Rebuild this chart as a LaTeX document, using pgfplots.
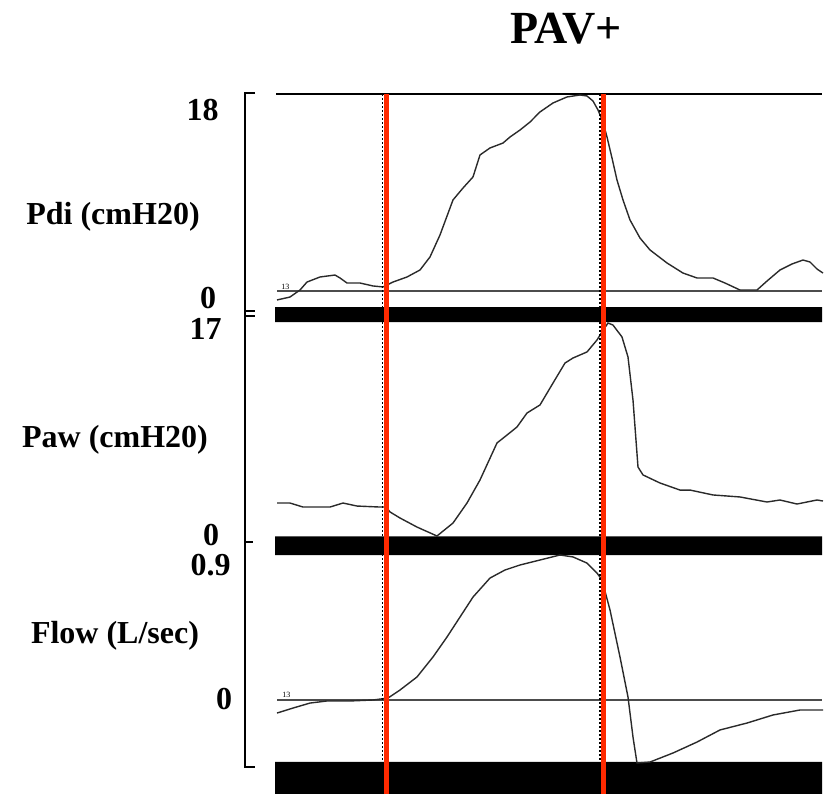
\documentclass[border=0pt]{standalone}
\usepackage{pgfplots}
\pgfplotsset{compat=1.18}
\usepackage{fontspec}
\setmainfont{Liberation Serif}
\definecolor{redline}{HTML}{FF2A00}
\definecolor{trace}{HTML}{2A2A2A}
\begin{document}
\begin{tikzpicture}
\useasboundingbox (0pt,0pt) rectangle (413.5pt,-397pt);
\pgfplotsset{panel/.style={scale only axis, width=274pt, xmin=275, xmax=823,
  axis lines=none, ticks=none, clip=false, anchor=south west}}
% ---------------- Pdi ----------------
\begin{axis}[panel, at={(137.5pt,-161pt)}, height=114pt, ymin=-2.833, ymax=18]
\addplot[fill=black, draw=none] coordinates {(275,-1.462) (822,-1.462) (822,-2.833) (275,-2.833) (275,-1.462)};
\addplot[black, line width=1.1pt] coordinates {(276,18) (822,18)};
\addplot[black!70, line width=0.7pt] coordinates {(277,0) (822,0)};
\addplot[trace, line width=0.7pt] coordinates {
(277,-0.82) (290,-0.55) (300,0.09) (307,0.82) (320,1.28) (335,1.46) (340,1.19) (347,0.73)
(360,0.73) (373,0.46) (383,0.37) (393,0.82) (407,1.28) (420,1.92) (430,3.11) (440,5.12)
(453,8.32) (463,9.41) (473,10.42) (480,12.43) (490,13.07) (503,13.52) (510,14.07) (520,14.71)
(530,15.44) (540,16.36) (553,17.18) (567,17.73) (580,17.91) (587,17.82) (593,17.36) (598,16.54)
(603,15.44) (607,14.07) (612,12.15) (617,10.14) (623,8.32) (630,6.49) (640,4.84) (650,3.75)
(667,2.56) (683,1.64) (697,1.19) (713,1.19) (725,0.73) (740,0.09) (757,0.09) (767,0.91)
(780,1.92) (792,2.47) (803,2.83) (810,2.65) (817,2.01) (823,1.64)};
\end{axis}
% ---------------- Paw ----------------
\begin{axis}[panel, at={(137.5pt,-277.5pt)}, height=116.5pt, ymin=-1.43, ymax=17.08]
\addplot[fill=black, draw=none] coordinates {(275,0.05) (822,0.05) (822,-1.43) (275,-1.43) (275,0.05)};
\addplot[trace, line width=0.7pt] coordinates {
(277,2.70) (290,2.70) (303,2.38) (330,2.38) (343,2.70) (357,2.46) (380,2.38) (386,2.38)
(390,1.99) (400,1.51) (417,0.79) (437,0.08) (453,1.11) (467,2.70) (480,4.53) (497,7.47)
(507,8.10) (517,8.74) (527,9.85) (540,10.49) (553,12.23) (565,13.82) (573,14.22) (587,14.70)
(597,15.65) (602,16.29) (608,17.00) (613,16.84) (622,15.89) (628,14.30) (633,10.88) (638,5.56)
(643,4.93) (660,4.29) (680,3.73) (690,3.73) (713,3.34) (740,3.18) (767,2.78) (780,2.94)
(797,2.62) (817,2.94) (823,2.86)};
\end{axis}
% ---------------- Flow ----------------
\begin{axis}[panel, at={(137.5pt,-397pt)}, height=119.5pt, ymin=-0.5835, ymax=0.9]
\addplot[fill=black, draw=none] coordinates {(275,-0.3848) (822,-0.3848) (822,-0.5835) (275,-0.5835) (275,-0.3848)};
\addplot[black!70, line width=0.7pt] coordinates {(277,0) (822,0)};
\addplot[trace, line width=0.7pt] coordinates {
(277,-0.081) (293,-0.050) (310,-0.019) (327,-0.006) (350,-0.006) (373,0) (388,0.012) (400,0.062)
(417,0.143) (433,0.267) (447,0.391) (460,0.515) (473,0.639) (490,0.757) (505,0.807) (520,0.838)
(540,0.869) (560,0.900) (573,0.888) (587,0.850) (597,0.788) (602,0.745) (610,0.559) (620,0.267)
(628,0.019) (633,-0.230) (637,-0.391) (650,-0.385) (673,-0.329) (697,-0.261) (720,-0.186)
(747,-0.143) (773,-0.093) (800,-0.062) (823,-0.062)};
\end{axis}
% ---------------- overlay (pixel frame) ----------------
\begin{axis}[scale only axis, width=413.5pt, height=397pt, at={(0pt,0pt)}, anchor=north west,
  xmin=0, xmax=827, ymin=0, ymax=794, y dir=reverse, axis lines=none, ticks=none, clip=false]
% left bracket
\addplot[black, line width=1pt] coordinates {(255,93) (245,93) (245,767) (255,767)};
\addplot[black, line width=1pt] coordinates {(245,311) (255,311)};
\addplot[black, line width=1pt] coordinates {(245,316) (255,316)};
\addplot[black, line width=1pt] coordinates {(245,542) (253,542)};
% dashed markers
\addplot[black, line width=0.6pt, dash pattern=on 1pt off 1pt] coordinates {(382.5,94) (382.5,760)};
\addplot[black, line width=0.6pt, dash pattern=on 1pt off 1pt] coordinates {(600,94) (600,760)};
% red lines
\addplot[redline, line width=2.5pt] coordinates {(386.5,94) (386.5,794)};
\addplot[redline, line width=2.5pt] coordinates {(603.5,94) (603.5,794)};
% texts
\node[anchor=base, inner sep=0pt, font=\fontsize{23}{23}\selectfont\bfseries] at (axis cs:566,43) {PAV+};
\begin{scope}[every node/.style={inner sep=0pt, font=\fontsize{16}{16}\selectfont\bfseries}]
\node[anchor=base east] at (axis cs:219,120) {18};
\node[anchor=base] at (axis cs:113,224) {Pdi (cmH20)};
\node[anchor=base] at (axis cs:208,308) {0};
\node[anchor=base east] at (axis cs:222,339) {17};
\node[anchor=base] at (axis cs:115,447) {Paw (cmH20)};
\node[anchor=base] at (axis cs:211,545) {0};
\node[anchor=base east] at (axis cs:231,575) {0.9};
\node[anchor=base] at (axis cs:115,643) {Flow (L/sec)};
\node[anchor=base] at (axis cs:224,709) {0};
\end{scope}
\node[anchor=base west, inner sep=0pt, font=\fontsize{4}{4}\selectfont] at (axis cs:281,289) {13};
\node[anchor=base west, inner sep=0pt, font=\fontsize{4}{4}\selectfont] at (axis cs:282,697) {13};
\end{axis}
\end{tikzpicture}
\end{document}
